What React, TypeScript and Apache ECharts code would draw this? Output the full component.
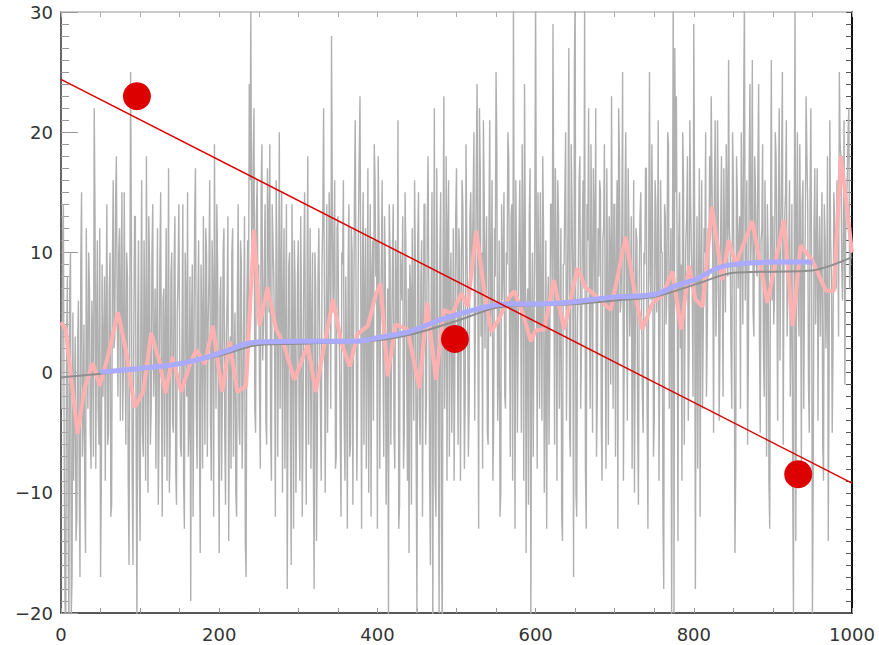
import React, { useEffect, useRef } from "react";
import * as echarts from "echarts";

// Noisy gray series at even x (x = 0, 2, 4, ... 1000)
const grayEven: number[] = [
  4, 11, -6, -21, 8, -22, 10, -17, -9, 3,
  -12, 6, -17, 15, -4, -10, 12, -3, 7, -8,
  3, 22, -8, 11, -6, -17, 9, 2, -9, 14,
  -5, 10, -11, 16, 3, 18, -2, 12, 7, -4,
  15, -6, 8, -16, 25, -9, 3, 13, -21, 11,
  -14, 16, -7, 4, 18, -10, 9, -3, 14, 1,
  -8, 12, -4, 15, -12, 7, 3, -9, 17, -6,
  10, -5, 13, -11, 8, 2, -7, 14, -13, 6,
  15, -4, -19, 9, 1, 17, -8, 11, -15, 5,
  13, -6, 10, 4, 16, -9, 7, 19, -3, 9,
  -15, 8, -2, 12, -11, 6, -14, 3, 10, -7,
  5, -12, 14, -6, 9, -3, 13, -17, 11, 24,
  30, 7, 22, -5, 16, 9, -8, 19, 4, 14,
  -6, 13, 19, -9, 11, 2, 16, -7, 20, 8,
  -10, 12, 3, -18, 9, -5, 14, -13, 7, -2,
  11, -9, 6, -4, 15, -11, 18, 3, -8, 10,
  -18, 7, -6, 12, -3, 9, 22, -10, 14, 4,
  11, 28, 5, 16, -7, 13, 2, -12, 9, -4,
  8, -13, 14, -6, 10, 4, 21, -9, 12, 23,
  -13, 15, 6, -8, 17, 3, -12, 11, 19, 8,
  -13, 12, 5, 16, -7, 9, -3, -21, 10, 2,
  14, -8, 6, 21, -11, 8, 13, -5, 10, -9,
  -15, 7, 12, -4, 9, -20, 15, -6, 11, 3,
  14, -2, 18, -8, 6, -21, 22, -12, 8, -20,
  15, -22, 23, 4, -9, 16, 7, -5, 12, 2,
  17, -6, 10, 3, 14, -8, 19, 6, -3, 15,
  9, 20, 5, 24, -13, 17, 10, 21, 2, 13,
  -6, 21, 8, -9, 12, 25, -4, 11, -10, 6,
  15, -3, 9, 18, -7, 14, 31, -13, 8, 3,
  16, -5, 11, 24, -15, 7, 13, -21, 10, 4,
  32, -8, 9, 15, -4, 12, -2, -13, 8, 3,
  14, 29, -6, 10, 16, -3, 12, -14, 9, 20,
  5, 27, -7, 14, -17, 32, -12, 9, 18, 2,
  16, 31, -13, 11, 6, 19, -5, 13, 22, -2,
  8, 15, -9, 12, 4, 17, -6, 10, 23, -3,
  14, 9, -13, 18, 6, 25, 1, 20, -4, 12,
  7, -8, 16, 3, 11, -11, 13, 5, -5, 9,
  17, -13, 25, 6, 12, -4, 14, 8, -9, 16,
  10, -18, 13, 7, 19, 6, -22, 32, 27, 23,
  -14, 15, 9, 20, -6, 11, 18, 2, 14, 7,
  29, -18, 13, 7, -12, 16, 4, 10, -2, 12,
  18, 23, 9, 15, 3, 21, -4, 12, 8, 17,
  5, 14, 26, 10, -3, 16, -15, 18, 7, 13,
  20, 4, 31, 11, -6, 17, 9, 26, 3, 15,
  8, 24, -5, 12, 2, 16, -7, 10, -13, 26,
  13, 6, 18, -4, 22, 11, 25, 9, 15, 3,
  10, -2, 14, -20, 31, 12, 6, 19, -8, 16,
  8, 23, 14, -5, 22, -20, 12, 4, 17, 9,
  3, 15, -9, 11, 6, -14, 21, 8, 2, 13,
  7, 14, 25, 18, 6, 21, 12, 16, 22, 9,
  10,
];

// Noisy gray series at odd x (x = 1, 3, 5, ... 999)
const grayOdd: number[] = [
  -3, 14, -19, 2, -12, 7, -20, 5, -2, -14,
  2, -9, 9, -7, 4, -15, 1, 10, -5, 6,
  -7, 13, 4, -3, 12, -9, -2, 8, 5, -6,
  7, -12, 9, 2, 14, 6, 10, -4, 15, 1,
  3, 10, -9, 5, 11, -16, 13, -6, 4, -8,
  6, -5, 11, -9, 2, 13, -6, 10, -2, 7,
  4, -11, 9, -2, 6, -7, 12, 2, -10, 8,
  -4, 9, -8, 5, 14, -6, 3, -9, 10, -2,
  -7, 8, 4, -12, 13, -3, 6, -5, 9, -8,
  2, 12, -7, 8, -4, 11, -12, 5, 14, -4,
  6, -9, 10, -5, 3, 13, -1, -8, 12, 1,
  -10, 7, -4, 11, -8, 5, -14, 6, 3, 16,
  12, 18, -3, 13, 6, -2, 15, 1, 9, -4,
  17, 5, -5, 14, 8, -12, 10, 5, -3, 15,
  6, -8, 14, -2, 10, -16, 5, 11, -10, 8,
  -4, 13, -12, 9, 2, 7, -6, 12, 4, -7,
  10, -14, 8, 3, -9, 13, 6, 1, -5, 15,
  -3, 14, 9, -8, 12, 4, -5, 10, 16, -9,
  2, 9, -7, 12, -11, 15, 7, -2, 18, 6,
  9, -6, 12, 3, -10, 14, 8, -4, 16, 11,
  18, -8, 9, 2, 13, -11, 7, 14, -6, 9,
  -5, 11, 3, -13, 10, 6, -8, 15, 1, 7,
  9, -11, 4, 16, -7, 11, -3, 8, -12, 14,
  -6, 12, 7, -16, 15, 3, -9, 17, -4, 10,
  -13, 9, -3, 18, 12, -7, 10, 2, -9, 13,
  5, 12, -9, 16, 4, -2, 11, -7, 13, 8,
  14, -4, 17, 7, 22, 3, -8, 15, 9, -5,
  12, 3, 16, -4, 8, 19, 0, -12, 14, 9,
  -2, 10, 20, 4, 13, -9, 7, 16, -5, 11,
  8, 19, -9, 12, 5, -11, 17, 4, -7, 12,
  9, 15, -3, 6, 18, -10, 11, 4, -6, 14,
  6, 12, 17, -9, 13, 4, -12, 9, 15, -4,
  13, -5, 19, 8, 25, -10, 4, 16, -3, 11,
  7, -8, 14, 22, -3, 10, 17, 6, -7, 12,
  16, -4, 11, 19, -8, 7, 13, -1, 9, 14,
  -7, 16, 22, 5, 12, -9, 14, 7, 17, 3,
  13, 2, -10, 12, -4, 8, 15, -2, 10, 17,
  -3, 11, 8, 19, -7, 16, 5, 21, 2, 10,
  -12, 14, 4, 20, -3, 12, 9, -20, 15, 8,
  11, 2, -9, 16, 6, 13, -4, 21, 10, -2,
  14, 5, -8, 17, 9, -3, 12, 20, 3, 8,
  11, 16, -5, 21, 7, 14, 2, 18, -2, 10,
  19, 8, 12, 2, 20, 7, -8, 15, 11, -3,
  13, 22, 6, 16, 1, 24, 12, 5, 18, 9,
  17, 3, 11, 19, -2, 8, 14, -9, 12, 6,
  4, 20, 9, 14, 1, 17, -6, 13, 21, 7,
  16, 5, -9, 12, -14, 20, 3, 10, 14, -3,
  12, 18, -1, 15, 7, -8, 17, 10, -4, 13,
  9, -6, 14, 2, 18, 0, 11, -5, 15, 7,
  16, 3, 19, 9, 12, -1, 14, 20, 7, 11,
];

// Pink (short-window smoothed) series
const pinkX: number[] = [
  0, 6, 13, 21, 30, 40, 49, 59, 72, 82, 93, 104, 114, 125, 132, 141, 152, 163, 171, 182,
  192, 198, 204, 213, 223, 234, 240, 244, 251, 261, 272, 282, 295, 312, 322, 333, 344, 354, 365, 375,
  388, 398, 404, 413, 423, 438, 453, 463, 474, 484, 495, 506, 514, 525, 535, 544, 554, 565, 573, 584,
  594, 600, 611, 623, 636, 653, 663, 676, 695, 714, 725, 735, 748, 760, 773, 784, 794, 802, 811, 823,
  836, 844, 853, 874, 893, 914, 925, 935, 950, 967, 977, 986, 994, 1000,
];
const pinkY: number[] = [
  4.2, 3.6, -0.6, -5.1, -1.3, 0.8, -1.1, 1.3, 5.0, 1.9, -2.9, -1.6, 3.3, 0.8, -1.7, 1.3, -1.6, 0.7, 1.9, 0.7,
  3.9, 1.0, -1.6, 2.6, -1.6, -1.1, 6.8, 11.9, 3.9, 7.1, 3.6, 2.3, -0.6, 2.3, -1.6, 2.3, 6.1, 2.6, 0.5, 3.2,
  3.9, 6.5, 7.4, -0.3, 4.0, 3.6, -1.3, 5.8, -0.6, 5.2, 4.9, 6.6, 5.5, 11.8, 6.8, 3.4, 4.5, 6.1, 6.8, 4.9,
  2.6, 3.5, 3.6, 7.7, 3.6, 8.7, 7.1, 6.4, 5.2, 11.3, 6.8, 3.6, 5.8, 6.4, 8.4, 3.6, 8.9, 6.1, 5.5, 13.8,
  7.7, 11.0, 9.0, 12.6, 5.8, 12.7, 3.9, 10.6, 9.3, 6.8, 6.8, 18.0, 13.5, 10.0,
];

// Light blue (long-window moving average)
const blueX: number[] = [50, 100, 146, 175, 209, 242, 300, 374, 400, 440, 480, 510, 540, 560, 600, 650, 700, 750, 780, 800, 830, 850, 900, 950];
const blueY: number[] = [0.05, 0.35, 0.7, 1.1, 1.8, 2.5, 2.6, 2.6, 2.9, 3.4, 4.4, 5.0, 5.5, 5.7, 5.7, 5.9, 6.3, 6.5, 7.3, 7.7, 8.7, 9.0, 9.2, 9.2];

// Dark gray trend
const trendX: number[] = [0, 50, 100, 150, 200, 250, 300, 400, 450, 500, 550, 600, 650, 700, 750, 800, 850, 900, 950, 1000];
const trendY: number[] = [-0.4, -0.1, 0.3, 0.7, 1.4, 2.3, 2.4, 2.7, 3.3, 4.3, 5.4, 5.6, 5.7, 6.0, 6.3, 7.3, 8.3, 8.4, 8.5, 9.6];

// Red fit line end points
const fitX: number[] = [0, 1000];
const fitY: number[] = [24.4, -9.2];

// Red points
const dotX: number[] = [96, 498, 932];
const dotY: number[] = [23, 2.8, -8.45];

const xTicks = { min: 0, max: 1000, interval: 200 };
const yTicks = { min: -20, max: 30, interval: 10 };

const zip = (xs: number[], ys: number[]) => xs.map((x, i) => [x, ys[i]]);

export default function App() {
  const ref = useRef<HTMLDivElement>(null);
  useEffect(() => {
    if (!ref.current) return;
    const chart = echarts.init(ref.current, undefined, { renderer: "svg" });
    const grayData: number[][] = [];
    grayEven.forEach((y, i) => {
      grayData.push([i * 2, y]);
      if (i < grayOdd.length) grayData.push([i * 2 + 1, grayOdd[i]]);
    });
    const labelStyle = { color: "#333", fontFamily: "DejaVu Sans", fontSize: 18 };
    const minus = (v: number) => String(v).replace("-", "\u2212");
    chart.setOption({
      animation: false,
      backgroundColor: "#ffffff",
      grid: { left: 61, right: 27, top: 12, bottom: 32, containLabel: false },
      xAxis: [
        {
          type: "value", ...xTicks, position: "bottom",
          axisLine: { show: true, onZero: false, lineStyle: { color: "#222", width: 1.5 } },
          axisTick: { show: true, inside: true, length: 5, lineStyle: { color: "#999" } },
          minorTick: { show: true, splitNumber: 4, length: 5, lineStyle: { color: "#999" } },
          axisLabel: { ...labelStyle, margin: 12, formatter: minus },
          splitLine: { show: false },
        },
        {
          type: "value", ...xTicks, position: "top",
          axisLine: { show: true, onZero: false, lineStyle: { color: "#bbb", width: 1.5 } },
          axisTick: { show: true, inside: true, length: 5, lineStyle: { color: "#aaa" } },
          minorTick: { show: true, splitNumber: 4, length: 5, lineStyle: { color: "#aaa" } },
          axisLabel: { show: false },
          splitLine: { show: false },
        },
      ],
      yAxis: [
        {
          type: "value", ...yTicks, position: "left",
          axisLine: { show: true, onZero: false, lineStyle: { color: "#333", width: 1.5 } },
          axisTick: { show: true, inside: true, length: 17, lineStyle: { color: "#999" } },
          minorTick: { show: true, splitNumber: 10, length: 8, lineStyle: { color: "#999" } },
          axisLabel: { ...labelStyle, margin: 8, formatter: minus },
          splitLine: { show: false },
        },
        {
          type: "value", ...yTicks, position: "right",
          axisLine: { show: true, onZero: false, lineStyle: { color: "#111", width: 2 } },
          axisTick: { show: true, inside: true, length: 6, lineStyle: { color: "#555" } },
          minorTick: { show: true, splitNumber: 10, length: 6, lineStyle: { color: "#555" } },
          axisLabel: { show: false },
          splitLine: { show: false },
        },
      ],
      series: [
        {
          type: "line", data: grayData, symbol: "none", silent: true,
          lineStyle: { color: "#b0b0b0", width: 1.4 }, z: 1,
        },
        {
          type: "line", data: zip(pinkX, pinkY), symbol: "none", silent: true,
          lineStyle: { color: "#ffb0b0", width: 4 }, z: 2,
        },
        {
          type: "line", data: zip(trendX, trendY), symbol: "none", silent: true, smooth: 0.3,
          lineStyle: { color: "#8f8f8f", width: 2 }, z: 3,
        },
        {
          type: "line", data: zip(blueX, blueY), symbol: "none", silent: true, smooth: 0.3,
          lineStyle: { color: "#aaaaff", width: 5 }, z: 4,
        },
        {
          type: "line", data: zip(fitX, fitY), symbol: "none", silent: true,
          lineStyle: { color: "#dd0000", width: 1.5 }, z: 5,
        },
        {
          type: "scatter", data: zip(dotX, dotY), symbol: "circle", symbolSize: 28, silent: true,
          itemStyle: { color: "#dd0000", opacity: 1 }, z: 6,
        },
      ],
    });
    return () => chart.dispose();
  }, []);
  return (
    <div
      ref={ref}
      style={{ position: "absolute", left: 0, top: 0, width: 879, height: 645, background: "#fff" }}
    />
  );
}
